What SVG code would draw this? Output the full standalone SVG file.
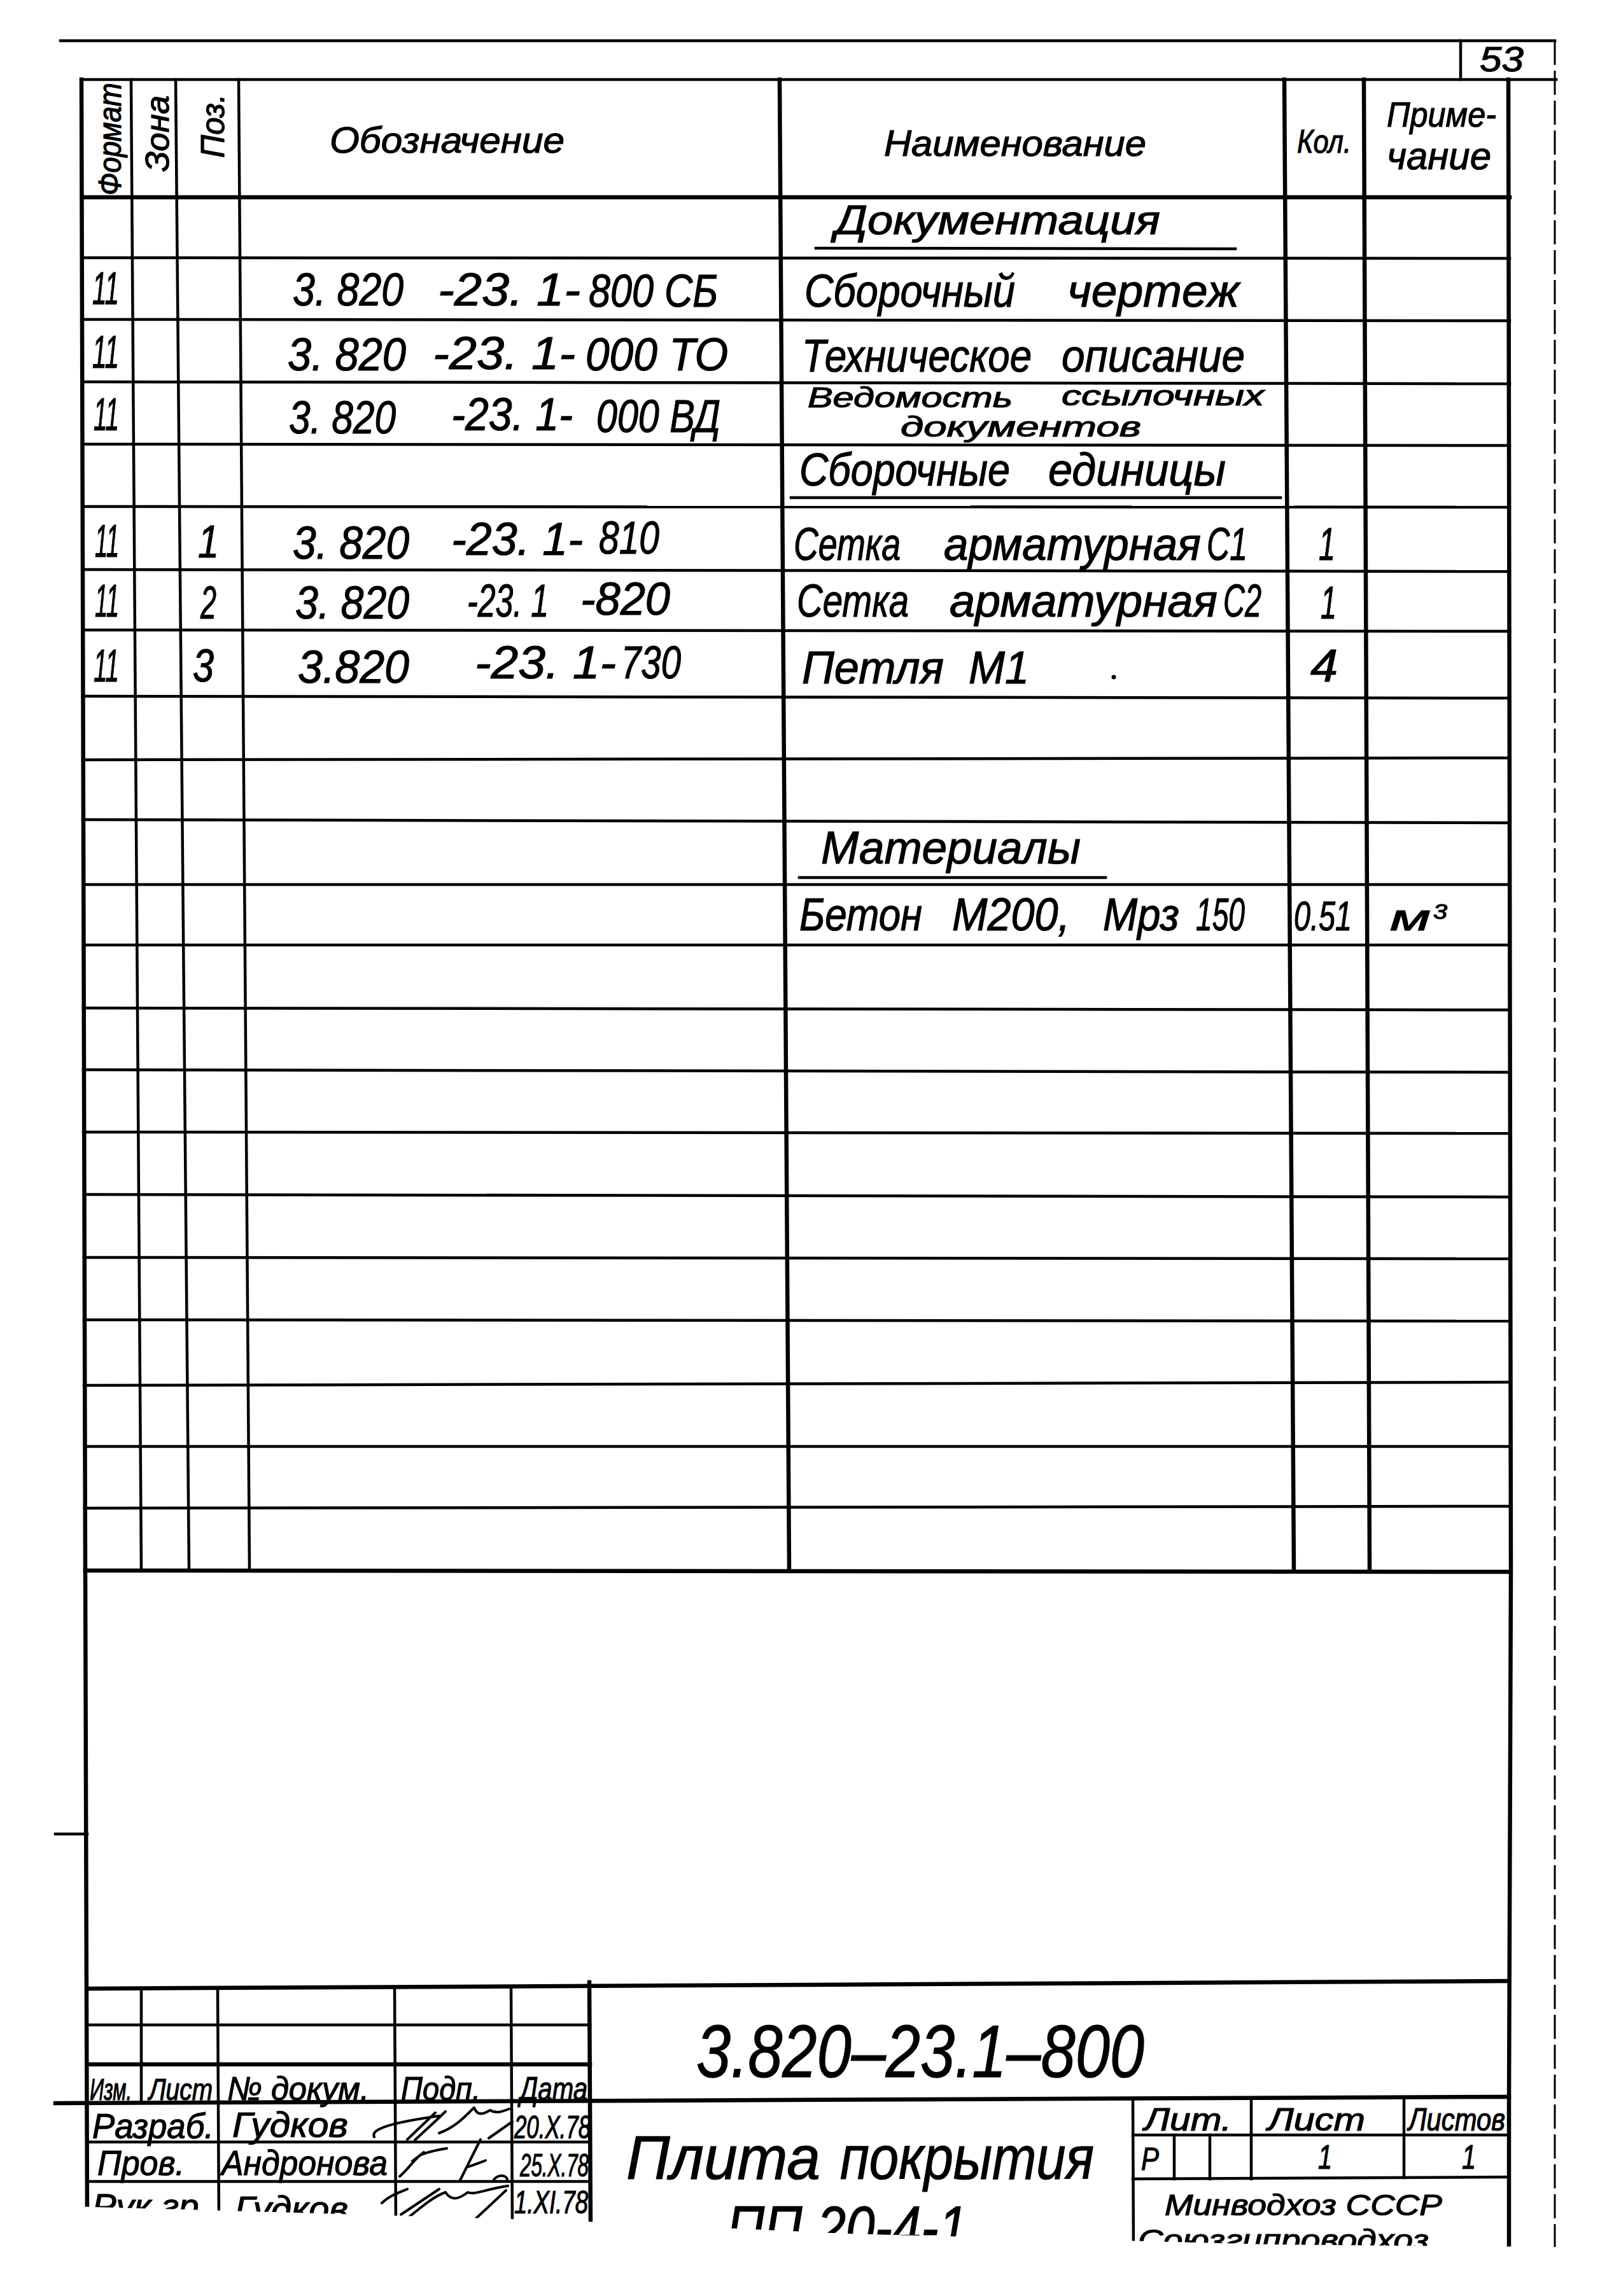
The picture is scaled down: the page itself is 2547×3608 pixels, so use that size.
<svg xmlns="http://www.w3.org/2000/svg" width="2547" height="3608" viewBox="0 0 2547 3608">
<style>
.ln{stroke:#000;stroke-width:4.5;fill:none;stroke-linecap:square}
.tk{stroke:#000;stroke-width:6.5;fill:none;stroke-linecap:square}
.dash{stroke:#000;stroke-width:3;fill:none;stroke-dasharray:38 9}
.sig{stroke:#000;stroke-width:4;fill:none;stroke-linecap:round;stroke-linejoin:round}
.t{font-family:"Liberation Sans",Arial,sans-serif;font-style:italic;fill:#000;stroke:#000;stroke-width:1.2}
.h{font-size:58px}
.r{font-size:72px}
.s{font-size:45px}
.m{font-size:56px}
</style>
<defs>
<clipPath id="page"><polygon points="0,0 2547,0 2547,3532 2000,3527 1330,3510 900,3490 500,3478 0,3464"/></clipPath>
</defs>
<rect width="2547" height="3608" fill="#fff"/>
<g clip-path="url(#page)">
<g id="frame">
<line class="ln" x1="95" y1="64" x2="2443" y2="64"/>
<line class="ln" x1="2295" y1="64" x2="2295" y2="125"/>
<line class="dash" x1="2443" y1="64" x2="2443" y2="3540"/>
<line class="ln" x1="87" y1="2882" x2="137" y2="2882"/>
<polyline class="tk" points="128,125 134,2468 137,3490"/>
<polyline class="tk" points="2370,125 2374,2468 2371,3300 2371,3540"/>
<text class="t" x="2325" y="112" font-size="56" textLength="69" lengthAdjust="spacingAndGlyphs">53</text>
</g>
<g id="spec-table">
<line class="ln" x1="128" y1="125" x2="2445" y2="125"/>
<line class="tk" x1="129" y1="310" x2="2372" y2="310"/>
<line class="ln" x1="129" y1="405" x2="2372" y2="406"/>
<line class="ln" x1="129" y1="502" x2="2372" y2="504"/>
<line class="ln" x1="129" y1="600" x2="2372" y2="603"/>
<line class="ln" x1="130" y1="698" x2="2372" y2="700"/>
<line class="ln" x1="130" y1="796" x2="2372" y2="797"/>
<line class="ln" x1="130" y1="895" x2="2372" y2="898"/>
<line class="ln" x1="130" y1="990" x2="2372" y2="992"/>
<line class="ln" x1="130" y1="1094" x2="2372" y2="1097"/>
<line class="ln" x1="130" y1="1194" x2="2372" y2="1191"/>
<line class="ln" x1="130" y1="1288" x2="2372" y2="1293"/>
<line class="ln" x1="131" y1="1390" x2="2372" y2="1390"/>
<line class="ln" x1="131" y1="1485" x2="2372" y2="1485"/>
<line class="ln" x1="131" y1="1584" x2="2372" y2="1587"/>
<line class="ln" x1="131" y1="1681" x2="2372" y2="1685"/>
<line class="ln" x1="131" y1="1779" x2="2372" y2="1781"/>
<line class="ln" x1="132" y1="1877" x2="2372" y2="1881"/>
<line class="ln" x1="132" y1="1976" x2="2372" y2="1978"/>
<line class="ln" x1="132" y1="2074" x2="2372" y2="2076"/>
<line class="ln" x1="132" y1="2177" x2="2372" y2="2172"/>
<line class="ln" x1="133" y1="2273" x2="2372" y2="2273"/>
<line class="ln" x1="133" y1="2370" x2="2372" y2="2367"/>
<line class="tk" x1="134" y1="2468" x2="2373" y2="2470"/>
<line class="ln" x1="206" y1="125" x2="222" y2="2468"/>
<line class="ln" x1="276" y1="125" x2="297" y2="2468"/>
<line class="ln" x1="375" y1="125" x2="392" y2="2468"/>
<line class="tk" x1="1225" y1="125" x2="1240" y2="2468"/>
<line class="tk" x1="2018" y1="125" x2="2033" y2="2468"/>
<line class="tk" x1="2143" y1="125" x2="2152" y2="2468"/>
</g>
<g id="header">
<text class="t" transform="translate(190,307) rotate(-90)" font-size="50" textLength="177" lengthAdjust="spacingAndGlyphs">Формат</text>
<text class="t" transform="translate(265,270) rotate(-90)" font-size="52" textLength="120" lengthAdjust="spacingAndGlyphs">Зона</text>
<text class="t" transform="translate(352,248) rotate(-90)" font-size="52" textLength="100" lengthAdjust="spacingAndGlyphs">Поз.</text>
<text class="t h" x="518" y="240" textLength="369" lengthAdjust="spacingAndGlyphs">Обозначение</text>
<text class="t h" x="1389" y="245" textLength="412" lengthAdjust="spacingAndGlyphs">Наименование</text>
<text class="t" x="2038" y="240" font-size="52" textLength="85" lengthAdjust="spacingAndGlyphs">Кол.</text>
<text class="t" x="2179" y="199" font-size="56" textLength="172" lengthAdjust="spacingAndGlyphs">Приме-</text>
<text class="t" x="2179" y="266" font-size="62" textLength="164" lengthAdjust="spacingAndGlyphs">чание</text>
</g>
<g id="rows">
<text class="t" x="1312" y="368" font-size="64" textLength="511" lengthAdjust="spacingAndGlyphs">Документация</text>
<line class="ln" x1="1282" y1="390" x2="1941" y2="391"/>
<text class="t r" x="145" y="478" font-size="62" textLength="42" lengthAdjust="spacingAndGlyphs">11</text>
<text class="t r" x="460" y="480" textLength="174" lengthAdjust="spacingAndGlyphs">3. 820</text>
<text class="t r" x="688" y="480" textLength="224" lengthAdjust="spacingAndGlyphs">-23. 1-</text>
<text class="t r" x="925" y="482" textLength="203" lengthAdjust="spacingAndGlyphs">800 СБ</text>
<text class="t r" x="1264" y="482" textLength="331" lengthAdjust="spacingAndGlyphs">Сборочный</text>
<text class="t r" x="1677" y="482" textLength="270" lengthAdjust="spacingAndGlyphs">чертеж</text>
<text class="t r" x="145" y="578" font-size="62" textLength="42" lengthAdjust="spacingAndGlyphs">11</text>
<text class="t r" x="452" y="582" textLength="186" lengthAdjust="spacingAndGlyphs">3. 820</text>
<text class="t r" x="680" y="580" textLength="224" lengthAdjust="spacingAndGlyphs">-23. 1-</text>
<text class="t r" x="920" y="582" textLength="224" lengthAdjust="spacingAndGlyphs">000 ТО</text>
<text class="t r" x="1260" y="584" textLength="361" lengthAdjust="spacingAndGlyphs">Техническое</text>
<text class="t r" x="1668" y="584" textLength="288" lengthAdjust="spacingAndGlyphs">описание</text>
<text class="t r" x="147" y="676" font-size="62" textLength="40" lengthAdjust="spacingAndGlyphs">11</text>
<text class="t r" x="454" y="681" textLength="168" lengthAdjust="spacingAndGlyphs">3. 820</text>
<text class="t r" x="709" y="676" textLength="191" lengthAdjust="spacingAndGlyphs">-23. 1-</text>
<text class="t r" x="937" y="679" textLength="195" lengthAdjust="spacingAndGlyphs">000 ВД</text>
<text class="t s" x="1269" y="640" textLength="322" lengthAdjust="spacingAndGlyphs">Ведомость</text>
<text class="t s" x="1668" y="637" textLength="318" lengthAdjust="spacingAndGlyphs">ссылочных</text>
<text class="t s" x="1415" y="686" textLength="378" lengthAdjust="spacingAndGlyphs">документов</text>
<text class="t r" x="1256" y="763" textLength="331" lengthAdjust="spacingAndGlyphs">Сборочные</text>
<text class="t r" x="1647" y="763" textLength="279" lengthAdjust="spacingAndGlyphs">единицы</text>
<line class="ln" x1="1243" y1="782" x2="2012" y2="782"/>
<text class="t r" x="149" y="875" font-size="62" textLength="38" lengthAdjust="spacingAndGlyphs">11</text>
<text class="t r" x="311" y="876" font-size="62" textLength="33" lengthAdjust="spacingAndGlyphs">1</text>
<text class="t r" x="460" y="878" textLength="183" lengthAdjust="spacingAndGlyphs">3. 820</text>
<text class="t r" x="709" y="872" textLength="207" lengthAdjust="spacingAndGlyphs">-23. 1-</text>
<text class="t r" x="941" y="870" textLength="95" lengthAdjust="spacingAndGlyphs">810</text>
<text class="t r" x="1247" y="880" textLength="168" lengthAdjust="spacingAndGlyphs">Сетка</text>
<text class="t r" x="1483" y="880" textLength="404" lengthAdjust="spacingAndGlyphs">арматурная</text>
<text class="t r" x="1896" y="880" textLength="64" lengthAdjust="spacingAndGlyphs">С1</text>
<text class="t r" x="2072" y="880" font-size="62" textLength="26" lengthAdjust="spacingAndGlyphs">1</text>
<text class="t r" x="149" y="969" font-size="62" textLength="38" lengthAdjust="spacingAndGlyphs">11</text>
<text class="t r" x="315" y="972" font-size="62" textLength="25" lengthAdjust="spacingAndGlyphs">2</text>
<text class="t r" x="464" y="972" textLength="179" lengthAdjust="spacingAndGlyphs">3. 820</text>
<text class="t r" x="734" y="969" textLength="128" lengthAdjust="spacingAndGlyphs">-23. 1</text>
<text class="t r" x="912" y="966" textLength="141" lengthAdjust="spacingAndGlyphs">-820</text>
<text class="t r" x="1252" y="969" textLength="176" lengthAdjust="spacingAndGlyphs">Сетка</text>
<text class="t r" x="1492" y="969" textLength="421" lengthAdjust="spacingAndGlyphs">арматурная</text>
<text class="t r" x="1922" y="969" textLength="60" lengthAdjust="spacingAndGlyphs">С2</text>
<text class="t r" x="2075" y="972" font-size="62" textLength="25" lengthAdjust="spacingAndGlyphs">1</text>
<text class="t r" x="147" y="1071" font-size="62" textLength="40" lengthAdjust="spacingAndGlyphs">11</text>
<text class="t r" x="303" y="1071" font-size="62" textLength="33" lengthAdjust="spacingAndGlyphs">3</text>
<text class="t r" x="468" y="1073" textLength="175" lengthAdjust="spacingAndGlyphs">3.820</text>
<text class="t r" x="746" y="1066" textLength="222" lengthAdjust="spacingAndGlyphs">-23. 1-</text>
<text class="t r" x="976" y="1066" textLength="94" lengthAdjust="spacingAndGlyphs">730</text>
<text class="t r" x="1260" y="1074" textLength="223" lengthAdjust="spacingAndGlyphs">Петля</text>
<text class="t r" x="1522" y="1074" textLength="95" lengthAdjust="spacingAndGlyphs">М1</text>
<circle cx="1750" cy="1064" r="3.5" fill="#000"/>
<text class="t r" x="2059" y="1071" font-size="66" textLength="43" lengthAdjust="spacingAndGlyphs">4</text>
<text class="t r" x="1290" y="1357" textLength="408" lengthAdjust="spacingAndGlyphs">Материалы</text>
<line class="ln" x1="1256" y1="1379" x2="1737" y2="1379"/>
<text class="t r" x="1256" y="1462" textLength="193" lengthAdjust="spacingAndGlyphs">Бетон</text>
<text class="t r" x="1496" y="1462" textLength="185" lengthAdjust="spacingAndGlyphs">М200,</text>
<text class="t r" x="1733" y="1462" textLength="120" lengthAdjust="spacingAndGlyphs">Мрз</text>
<text class="t r" x="1879" y="1462" textLength="77" lengthAdjust="spacingAndGlyphs">150</text>
<text class="t" x="2033" y="1462" font-size="64" textLength="91" lengthAdjust="spacingAndGlyphs">0.51</text>
<text class="t" x="2184" y="1462" font-size="60" textLength="64" lengthAdjust="spacingAndGlyphs">м</text>
<text class="t" x="2252" y="1444" font-size="34" textLength="22" lengthAdjust="spacingAndGlyphs">3</text>
</g>
<g id="title-block">
<line class="tk" x1="137" y1="3125" x2="2371" y2="3113"/>
<line class="tk" x1="87" y1="3305" x2="2371" y2="3295"/>
<line class="ln" x1="137" y1="3182" x2="927" y2="3182"/>
<line class="tk" x1="137" y1="3244" x2="927" y2="3244"/>
<line class="ln" x1="137" y1="3366" x2="927" y2="3366"/>
<line class="ln" x1="137" y1="3428" x2="927" y2="3428"/>
<line class="ln" x1="222" y1="3125" x2="222" y2="3304"/>
<line class="ln" x1="342" y1="3125" x2="344" y2="3500"/>
<line class="ln" x1="620" y1="3124" x2="622" y2="3500"/>
<line class="ln" x1="803" y1="3124" x2="805" y2="3500"/>
<line class="tk" x1="926" y1="3115" x2="928" y2="3500"/>
<line class="ln" x1="1780" y1="3298" x2="1781" y2="3540"/>
<line class="ln" x1="1780" y1="3355" x2="2371" y2="3355"/>
<line class="ln" x1="1780" y1="3424" x2="2371" y2="3421"/>
<line class="ln" x1="1966" y1="3298" x2="1966" y2="3424"/>
<line class="ln" x1="2206" y1="3296" x2="2206" y2="3422"/>
<line class="ln" x1="1845" y1="3355" x2="1845" y2="3424"/>
<line class="ln" x1="1901" y1="3355" x2="1901" y2="3424"/>
<text class="t" x="1094" y="3264" font-size="116" textLength="704" lengthAdjust="spacingAndGlyphs">3.820–23.1–800</text>
<text class="t" x="984" y="3424" font-size="96" textLength="305" lengthAdjust="spacingAndGlyphs">Плита</text>
<text class="t" x="1320" y="3424" font-size="96" textLength="399" lengthAdjust="spacingAndGlyphs">покрытия</text>
<text class="t" x="1142" y="3534" font-size="96" textLength="378" lengthAdjust="spacingAndGlyphs">ПП 20-4-1</text>
<text class="t" x="141" y="3300" font-size="48" textLength="66" lengthAdjust="spacingAndGlyphs">Изм.</text>
<text class="t" x="234" y="3300" font-size="48" textLength="100" lengthAdjust="spacingAndGlyphs">Лист</text>
<text class="t" x="357" y="3300" font-size="52" textLength="223" lengthAdjust="spacingAndGlyphs">№ докум.</text>
<text class="t" x="630" y="3300" font-size="52" textLength="125" lengthAdjust="spacingAndGlyphs">Подп.</text>
<text class="t" x="817" y="3300" font-size="52" textLength="106" lengthAdjust="spacingAndGlyphs">Дата</text>
<text class="t" x="145" y="3360" font-size="56" textLength="191" lengthAdjust="spacingAndGlyphs">Разраб.</text>
<text class="t" x="365" y="3358" font-size="56" textLength="182" lengthAdjust="spacingAndGlyphs">Гудков</text>
<text class="t" x="808" y="3360" font-size="50" textLength="120" lengthAdjust="spacingAndGlyphs">20.X.78</text>
<text class="t" x="153" y="3418" font-size="56" textLength="137" lengthAdjust="spacingAndGlyphs">Пров.</text>
<text class="t" x="348" y="3418" font-size="56" textLength="261" lengthAdjust="spacingAndGlyphs">Андронова</text>
<text class="t" x="817" y="3420" font-size="50" textLength="108" lengthAdjust="spacingAndGlyphs">25.X.78</text>
<text class="t" x="145" y="3486" font-size="56" textLength="183" lengthAdjust="spacingAndGlyphs">Рук.гр.</text>
<text class="t" x="369" y="3490" font-size="56" textLength="178" lengthAdjust="spacingAndGlyphs">Гудков</text>
<text class="t" x="808" y="3478" font-size="50" textLength="116" lengthAdjust="spacingAndGlyphs">1.XI.78</text>
<text class="t" x="1798" y="3348" font-size="50" textLength="137" lengthAdjust="spacingAndGlyphs">Лит.</text>
<text class="t" x="1992" y="3348" font-size="50" textLength="153" lengthAdjust="spacingAndGlyphs">Лист</text>
<text class="t" x="2213" y="3348" font-size="50" textLength="152" lengthAdjust="spacingAndGlyphs">Листов</text>
<text class="t" x="1793" y="3410" font-size="50" textLength="28" lengthAdjust="spacingAndGlyphs">Р</text>
<text class="t" x="2071" y="3408" font-size="54" textLength="22" lengthAdjust="spacingAndGlyphs">1</text>
<text class="t" x="2297" y="3408" font-size="54" textLength="22" lengthAdjust="spacingAndGlyphs">1</text>
<text class="t" x="1830" y="3481" font-size="46" textLength="436" lengthAdjust="spacingAndGlyphs">Минводхоз СССР</text>
<text class="t" x="1788" y="3536" font-size="46" textLength="457" lengthAdjust="spacingAndGlyphs">Союзгипроводхоз</text>
<path class="sig" d="M588,3358 C582,3346 612,3336 690,3325 M640,3362 L684,3320 M652,3363 C670,3346 688,3330 700,3318 M690,3352 C718,3342 734,3322 745,3312 C750,3326 760,3322 770,3316 C780,3322 790,3318 800,3314 M768,3360 L805,3334"/>
<path class="sig" d="M628,3420 C640,3410 650,3395 660,3387 C672,3381 690,3378 702,3376 M648,3396 L666,3382 M722,3428 L755,3362 M735,3405 C745,3402 755,3398 763,3395 M776,3425 C784,3416 796,3418 797,3425"/>
<path class="sig" d="M600,3462 C612,3450 628,3445 640,3440 M630,3480 L690,3440 M640,3486 C660,3470 680,3452 700,3445 C710,3460 722,3455 735,3445 C746,3450 762,3440 798,3435 M748,3486 L795,3442"/>
</g>
</g>
</svg>
